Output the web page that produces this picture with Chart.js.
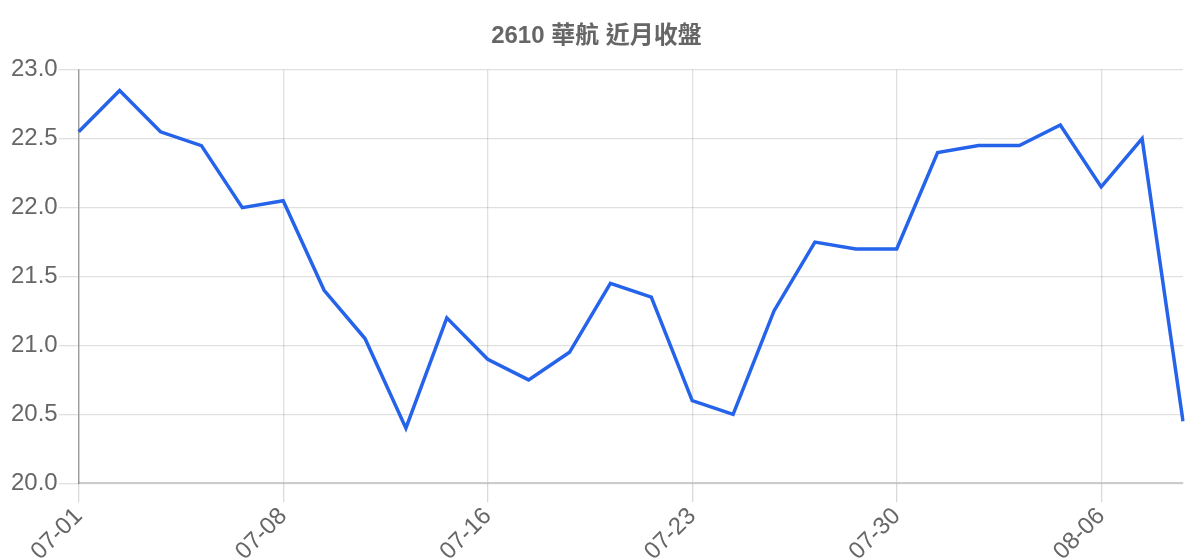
<!DOCTYPE html>
<html>
<head>
<meta charset="utf-8">
<script src="https://cdn.jsdelivr.net/npm/chart.js@4/dist/chart.umd.min.js"></script>
<style>
html,body{margin:0;padding:0;background:#fff;}
#wrap{width:1200px;height:560px;}
</style>
</head>
<body>
<div id="wrap"><canvas id="c"></canvas></div>
<script>
const categories = ["07-01","07-02","07-03","07-04","07-07","07-08","07-09","07-10","07-11","07-14","07-16","07-17","07-18","07-21","07-22","07-23","07-24","07-25","07-28","07-29","07-30","07-31","08-01","08-04","08-05","08-06","08-07","08-08"];
const closes = [22.55,22.85,22.55,22.45,22.0,22.05,21.4,21.05,20.4,21.2,20.9,20.75,20.95,21.45,21.35,20.6,20.5,21.25,21.75,21.7,21.7,22.4,22.45,22.45,22.6,22.15,22.5,20.45];
const titleText = "2610 華航 近月收盤";
const FONT = "'Liberation Sans', Arial, 'Noto Sans CJK TC', sans-serif";

new Chart(document.getElementById('c'), {
  type: 'line',
  data: {
    labels: categories,
    datasets: [{
      data: closes,
      borderColor: '#2563eb',
      borderWidth: 3.5,
      pointRadius: 0,
      tension: 0,
      fill: false
    }]
  },
  options: {
    responsive: true,
    maintainAspectRatio: false,
    animation: false,
    devicePixelRatio: 1,
    layout: { padding: { left: 10, right: 17, top: 0, bottom: -6 } },
    plugins: {
      legend: { display: false },
      tooltip: { enabled: false },
      title: {
        display: true,
        text: titleText,
        color: '#666',
        font: { family: FONT, size: 24, weight: 'bold' },
        padding: { top: 22, bottom: 19 }
      }
    },
    scales: {
      x: {
        grid: { color: 'rgba(0,0,0,0.12)', tickColor: 'rgba(0,0,0,0.15)', tickLength: 19, lineWidth: 1.3 },
        border: { color: 'rgba(0,0,0,0.2)', width: 1.5 },
        ticks: {
          autoSkip: false,
          maxRotation: 45,
          minRotation: 45,
          padding: 0,
          color: '#666',
          font: { family: FONT, size: 24 },
          callback: function(v, i) { return i % 5 === 0 ? categories[i] : null; }
        }
      },
      y: {
        min: 20,
        max: 23,
        grid: { color: 'rgba(0,0,0,0.12)', tickLength: 20, lineWidth: 1.3 },
        border: { color: 'rgba(0,0,0,0.3)', width: 1.5 },
        ticks: {
          stepSize: 0.5,
          padding: 1,
          color: '#666',
          font: { family: FONT, size: 24 },
          callback: function(v) { return Number(v).toFixed(1); }
        }
      }
    }
  }
});
</script>
</body>
</html>
